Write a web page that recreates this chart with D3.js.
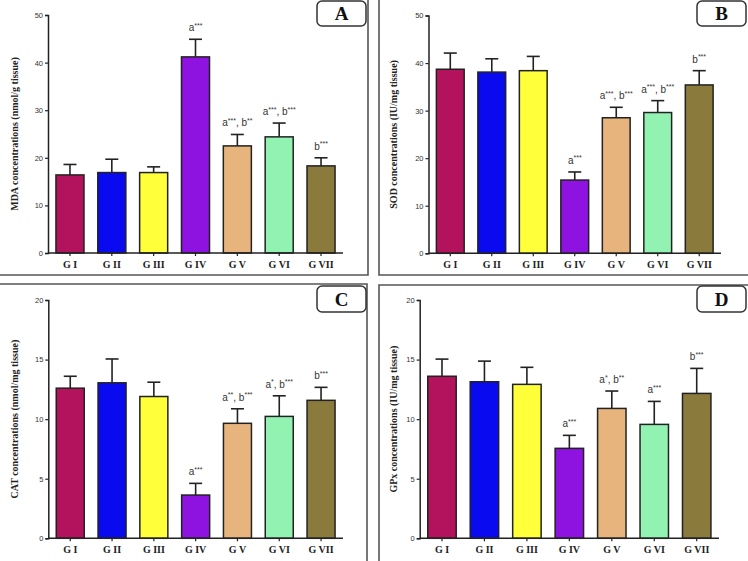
<!DOCTYPE html>
<html>
<head>
<meta charset="utf-8">
<script src="https://cdn.jsdelivr.net/npm/d3@7"></script>
<style>
  html, body { margin: 0; padding: 0; background: #fff; }
  svg { display: block; }
</style>
</head>
<body>
<svg id="chart" width="748" height="561"></svg>
<script>
// ---------- data ----------
const groups = ["G I", "G II", "G III", "G IV", "G V", "G VI", "G VII"];
const barColors = ["#B3135C", "#0A0AF0", "#FFFF3A", "#8E12E0", "#E8B47E", "#92F2B2", "#8A7A3C"];

const mdaMean = [16.4, 16.9, 16.9, 41.2, 22.5, 24.4, 18.3];
const mdaErr  = [2.2, 2.8, 1.2, 3.7, 2.4, 2.9, 1.7];
const mdaSig  = ["", "", "", "a***", "a***, b**", "a***, b***", "b***"];

const sodMean = [38.7, 38.1, 38.4, 15.4, 28.5, 29.6, 35.4];
const sodErr  = [3.4, 2.8, 3.0, 1.7, 2.2, 2.5, 3.0];
const sodSig  = ["", "", "", "a***", "a***, b***", "a***, b***", "b***"];

const catMean = [12.6, 13.05, 11.9, 3.63, 9.65, 10.23, 11.58];
const catErr  = [1.0, 2.0, 1.2, 0.98, 1.22, 1.73, 1.09];
const catSig  = ["", "", "", "a***", "a**, b***", "a*, b***", "b***"];

const gpxMean = [13.6, 13.14, 12.92, 7.55, 10.9, 9.56, 12.16];
const gpxErr  = [1.44, 1.73, 1.43, 1.09, 1.46, 1.93, 2.1];
const gpxSig  = ["", "", "", "a***", "a*, b**", "a***", "b***"];

const yTicksA = [0, 10, 20, 30, 40, 50];
const yTicksB = [0, 10, 20, 30, 40, 50];
const yTicksC = [0, 5, 10, 15, 20];
const yTicksD = [0, 5, 10, 15, 20];

const yTitles = [
  "MDA concentrations (nmol/g tissue)",
  "SOD concentrations (IU/mg tissue)",
  "CAT concentrations (nmol/mg tissue)",
  "GPx concentrations (IU/mg tissue)"
];
const panelLetters = ["A", "B", "C", "D"];

// ---------- drawing ----------
const svg = d3.select("#chart");
const serif = "'Liberation Serif', 'Times New Roman', serif";
const sans = "'Liberation Sans', Arial, sans-serif";
const ink = "#222";

// panel frames (L-shaped separators)
const frameColor = "#555";
const frames = [
  [[368, 0], [368, 275], [0, 275]],
  [[379, 0], [379, 275], [748, 275]],
  [[0, 284], [367, 284], [367, 561]],
  [[748, 285], [379, 285], [379, 561]]
];
frames.forEach(pts => {
  svg.append("path")
    .attr("d", d3.line()(pts))
    .attr("fill", "none")
    .attr("stroke", frameColor)
    .attr("stroke-width", 1.6);
});

function drawPanel(cfg) {
  const g = svg.append("g");
  const x = d3.scaleBand().domain(groups)
    .range([cfg.x0, cfg.x1]).paddingInner(0.33).paddingOuter(0.19);
  const y = d3.scaleLinear().domain([0, cfg.ymax]).range([cfg.yb, cfg.yt]);

  // bars
  g.selectAll("rect.bar").data(groups).join("rect")
    .attr("class", "bar")
    .attr("x", d => x(d))
    .attr("width", x.bandwidth())
    .attr("y", (d, i) => y(cfg.mean[i]))
    .attr("height", (d, i) => y(0) - y(cfg.mean[i]))
    .attr("fill", (d, i) => barColors[i])
    .attr("stroke", ink)
    .attr("stroke-width", 1.5);

  // error bars (upper only)
  const cap = 6.5;
  groups.forEach((d, i) => {
    const cx = x(d) + x.bandwidth() / 2;
    const top = y(cfg.mean[i] + cfg.err[i]);
    g.append("line")
      .attr("x1", cx).attr("x2", cx)
      .attr("y1", y(cfg.mean[i])).attr("y2", top)
      .attr("stroke", ink).attr("stroke-width", 1.6);
    g.append("line")
      .attr("x1", cx - cap).attr("x2", cx + cap)
      .attr("y1", top).attr("y2", top)
      .attr("stroke", ink).attr("stroke-width", 1.6);

    // significance annotation with superscript asterisks
    const s = cfg.sig[i];
    if (s) {
      const t = g.append("text")
        .attr("x", cx).attr("y", top - 8)
        .attr("text-anchor", "middle")
        .attr("font-family", sans)
        .attr("font-size", 10)
        .attr("fill", "#333");
      const parts = s.match(/\*+|[^*]+/g);
      let raised = false;
      parts.forEach(p => {
        const ts = t.append("tspan").text(p);
        if (p[0] === "*") {
          ts.attr("font-size", 7).attr("dy", raised ? 0 : -3.5);
          raised = true;
        } else {
          if (raised) { ts.attr("dy", 3.5); raised = false; }
        }
      });
    }
  });

  // y axis
  const yAxis = d3.axisLeft(y).tickValues(cfg.ticks).tickSize(3).tickPadding(2).tickFormat(d3.format("d"));
  const ya = g.append("g").attr("transform", `translate(${cfg.x0},0)`).call(yAxis);
  ya.select(".domain").attr("stroke", ink).attr("stroke-width", 1.5);
  ya.selectAll(".tick line").attr("stroke", ink).attr("stroke-width", 1.2);
  ya.selectAll(".tick text").attr("font-family", sans).attr("font-size", 7.5).attr("fill", "#333");

  // x axis
  const xAxis = d3.axisBottom(x).tickSize(3).tickPadding(5);
  const xa = g.append("g").attr("transform", `translate(0,${cfg.yb})`).call(xAxis);
  xa.select(".domain").attr("stroke", ink).attr("stroke-width", 1.5)
    .attr("d", `M${cfg.x0},0H${cfg.x1}`);
  xa.selectAll(".tick line").attr("stroke", ink).attr("stroke-width", 1.2);
  xa.selectAll(".tick text").attr("font-family", serif).attr("font-weight", "bold")
    .attr("font-size", 10).attr("fill", ink);

  // y title
  g.append("text")
    .attr("transform", `translate(${cfg.titleX},${(cfg.yt + cfg.yb) / 2}) rotate(-90)`)
    .attr("text-anchor", "middle")
    .attr("font-family", serif).attr("font-weight", "bold")
    .attr("font-size", 10).attr("fill", ink)
    .text(cfg.title);

  // panel letter box
  g.append("rect")
    .attr("x", cfg.box[0]).attr("y", cfg.box[1])
    .attr("width", cfg.box[2]).attr("height", cfg.box[3])
    .attr("rx", 5).attr("ry", 5)
    .attr("fill", "#fff").attr("stroke", "#333").attr("stroke-width", 1.5);
  g.append("text")
    .attr("x", cfg.box[0] + cfg.box[2] / 2)
    .attr("y", cfg.box[1] + cfg.box[3] / 2 + 6.5)
    .attr("text-anchor", "middle")
    .attr("font-family", serif).attr("font-weight", "bold")
    .attr("font-size", 19).attr("fill", "#111")
    .text(cfg.letter);
}

drawPanel({ x0: 48, x1: 343, yt: 15, yb: 253, ymax: 50, ticks: yTicksA,
  mean: mdaMean, err: mdaErr, sig: mdaSig, title: yTitles[0], titleX: 18,
  box: [317, 1, 49, 25], letter: panelLetters[0] });
drawPanel({ x0: 428.5, x1: 721, yt: 15.5, yb: 253.3, ymax: 50, ticks: yTicksB,
  mean: sodMean, err: sodErr, sig: sodSig, title: yTitles[1], titleX: 397,
  box: [697, 1, 49, 25], letter: panelLetters[1] });
drawPanel({ x0: 48.3, x1: 343, yt: 300, yb: 538.3, ymax: 20, ticks: yTicksC,
  mean: catMean, err: catErr, sig: catSig, title: yTitles[2], titleX: 18,
  box: [317, 286, 49, 26], letter: panelLetters[2] });
drawPanel({ x0: 419.7, x1: 719, yt: 300, yb: 538.3, ymax: 20, ticks: yTicksD,
  mean: gpxMean, err: gpxErr, sig: gpxSig, title: yTitles[3], titleX: 397,
  box: [697, 286, 49, 26], letter: panelLetters[3] });
</script>
</body>
</html>
